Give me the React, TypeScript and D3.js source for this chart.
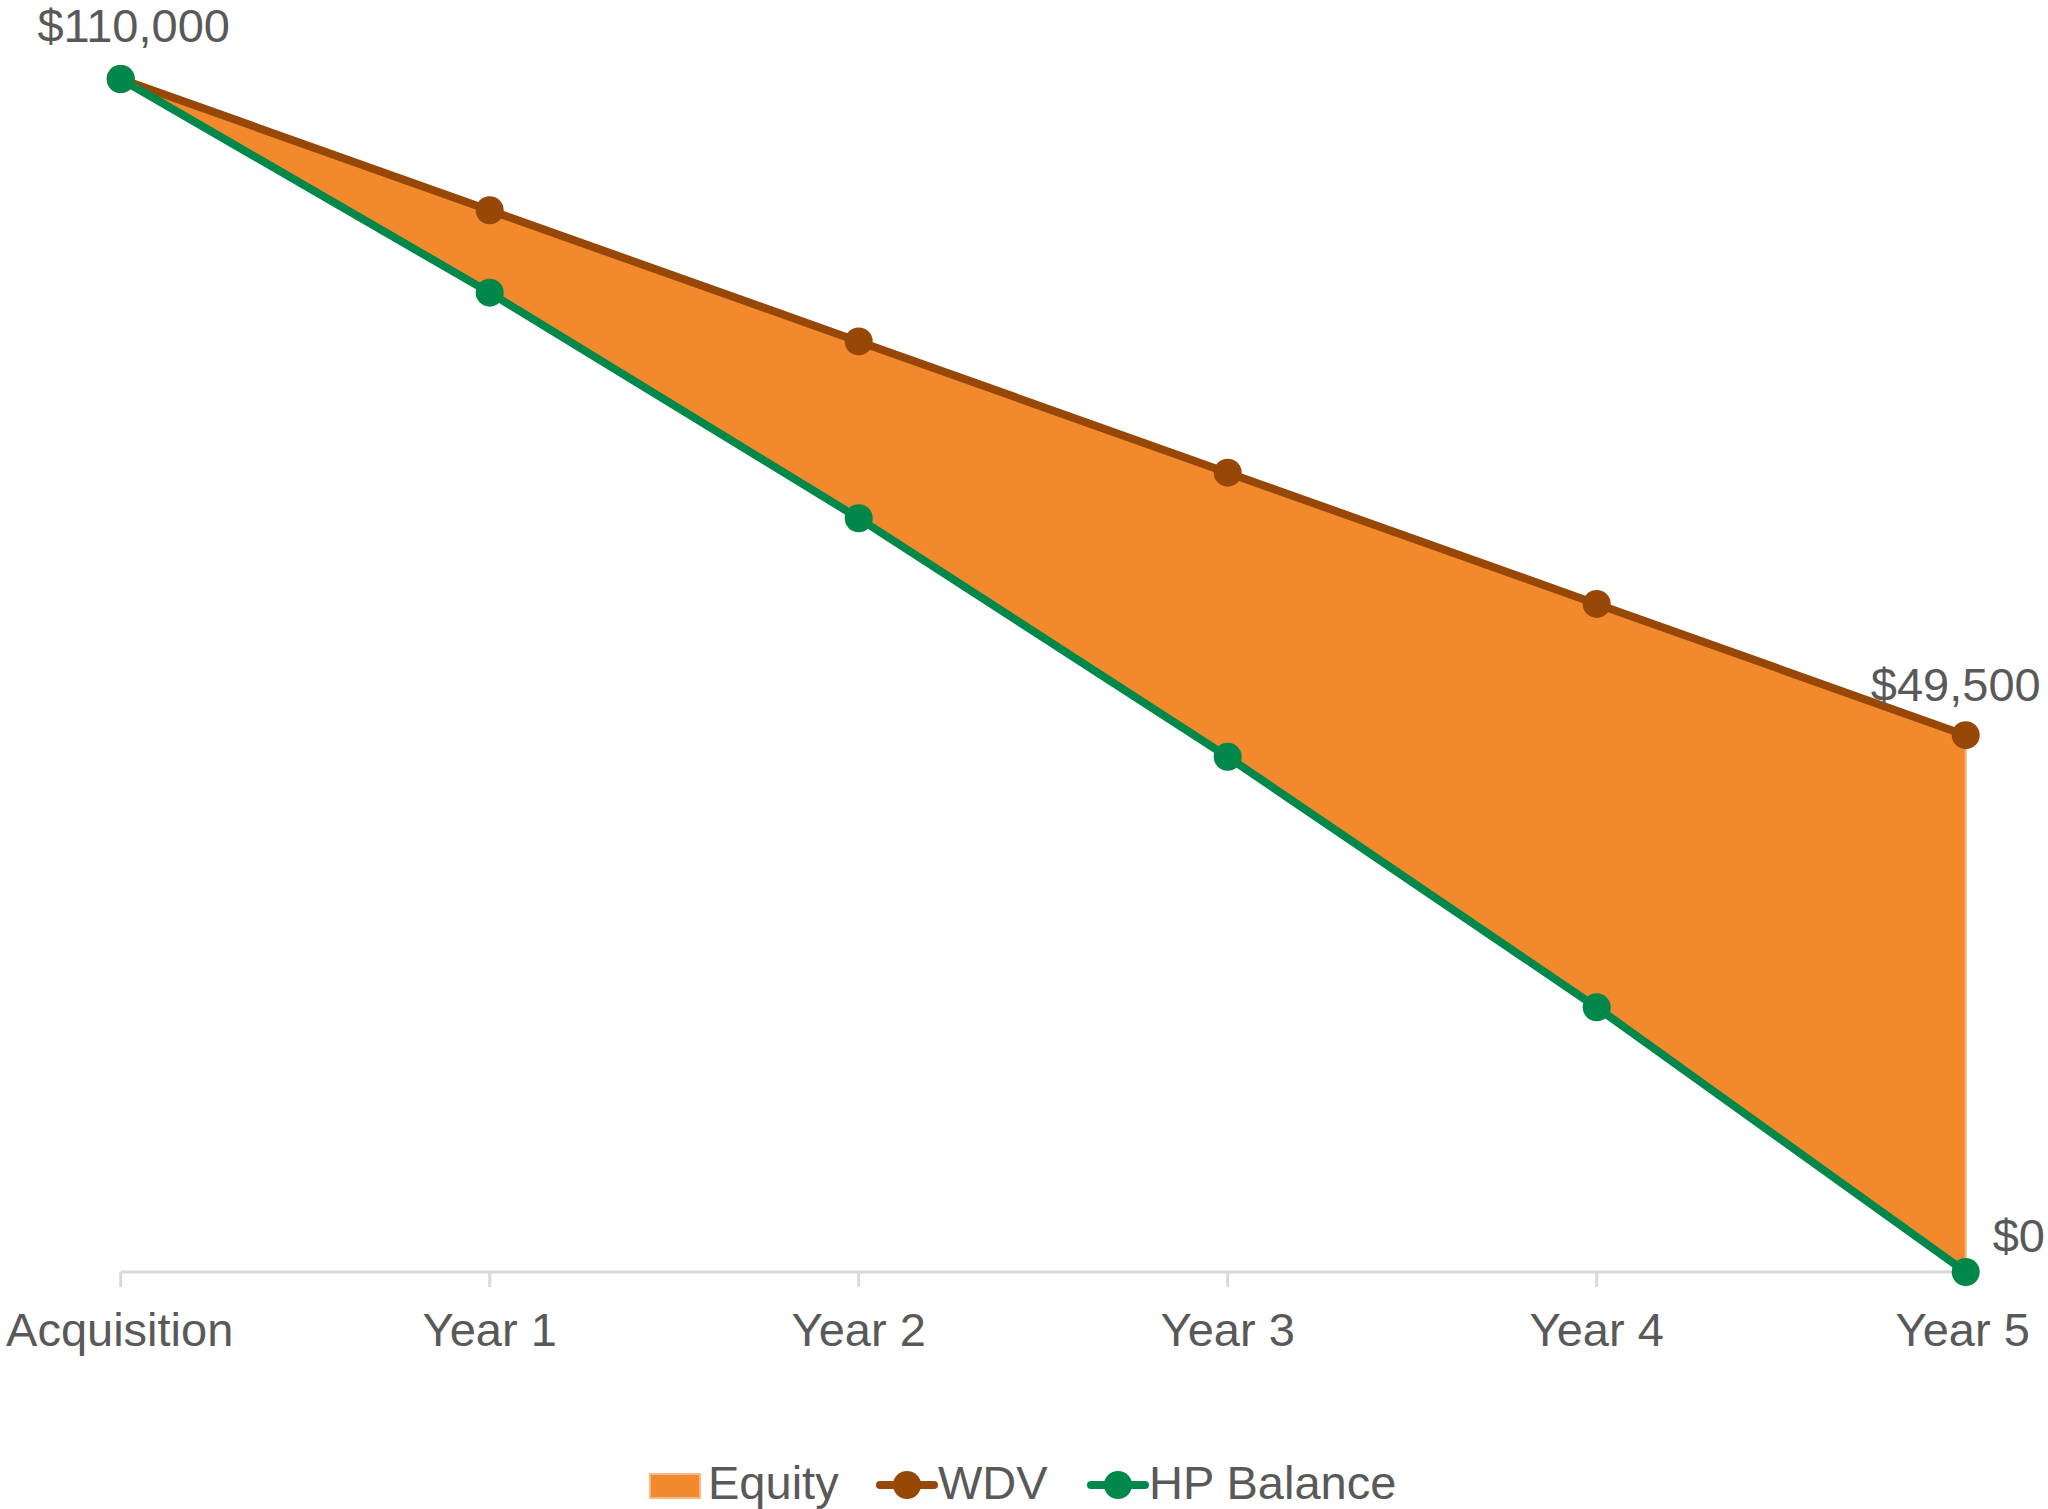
import React from "react";
import * as d3 from "d3";

const categories = ["Acquisition", "Year 1", "Year 2", "Year 3", "Year 4", "Year 5"];
const wdvValues = [110000, 97900, 85800, 73700, 61600, 49500];
const hpValues = [110000, 90300, 69500, 47500, 24400, 0];
const seriesNames = ["Equity", "WDV", "HP Balance"];

const W = 2048;
const H = 1509;
const ORANGE = "#F2892D";
const BROWN = "#974706";
const GREEN = "#00884A";
const TEXT = "#595959";
const FONT = "'Liberation Sans', Arial, sans-serif";

export default function App() {
  const x = d3.scalePoint<string>().domain(categories).range([120.7, 1965.7]);
  const y = d3.scaleLinear().domain([0, 110000]).range([1272, 79]);

  const rows = categories.map((c, i) => ({ c, wdv: wdvValues[i], hp: hpValues[i] }));

  const area = d3
    .area<typeof rows[0]>()
    .x((d) => x(d.c)!)
    .y0((d) => y(d.hp))
    .y1((d) => y(d.wdv));
  const lineW = d3.line<typeof rows[0]>().x((d) => x(d.c)!).y((d) => y(d.wdv));
  const lineH = d3.line<typeof rows[0]>().x((d) => x(d.c)!).y((d) => y(d.hp));

  const x0 = x(categories[0])!;
  const xN = x(categories[categories.length - 1])!;
  const last = categories.length - 1;

  return (
    <svg
      width={W}
      height={H}
      style={{ position: "absolute", left: 0, top: 0, background: "#fff" }}
      fontFamily={FONT}
    >
      <rect x={0} y={0} width={W} height={H} fill="#fff" />
      {/* axis */}
      <line x1={x0} x2={xN} y1={y(0)} y2={y(0)} stroke="#D9D9D9" strokeWidth={3} />
      {categories.map((c) => (
        <line key={c} x1={x(c)} x2={x(c)} y1={y(0)} y2={y(0) + 15} stroke="#D9D9D9" strokeWidth={3} />
      ))}
      {/* area */}
      <path d={area(rows)!} fill={ORANGE} />
      <line x1={xN} x2={xN} y1={y(wdvValues[last])} y2={y(hpValues[last])} stroke="#F5B07A" strokeWidth={2} />
      {/* lines */}
      <path d={lineW(rows)!} fill="none" stroke={BROWN} strokeWidth={8} strokeLinejoin="round" />
      <path d={lineH(rows)!} fill="none" stroke={GREEN} strokeWidth={8} strokeLinejoin="round" />
      {rows.map((d) => (
        <circle key={"w" + d.c} cx={x(d.c)} cy={y(d.wdv)} r={14} fill={BROWN} />
      ))}
      {rows.map((d) => (
        <circle key={"h" + d.c} cx={x(d.c)} cy={y(d.hp)} r={14} fill={GREEN} />
      ))}
      {/* category labels */}
      {categories.map((c, i) => (
        <text
          key={"t" + c}
          x={i === 0 ? x(c)! - 1 : i === last ? x(c)! - 3 : x(c)!}
          y={1346}
          textAnchor="middle"
          fontSize={47}
          fill={TEXT}
        >
          {c}
        </text>
      ))}
      {/* data labels */}
      <text x={x0 + 13} y={y(wdvValues[0]) - 37} textAnchor="middle" fontSize={47} fill={TEXT}>
        {d3.format("$,")(wdvValues[0])}
      </text>
      <text x={xN + 75} y={y(wdvValues[last]) - 34} textAnchor="end" fontSize={47} fill={TEXT}>
        {d3.format("$,")(wdvValues[last])}
      </text>
      <text x={xN + 27} y={y(hpValues[last]) - 20} textAnchor="start" fontSize={47} fill={TEXT}>
        {d3.format("$,")(hpValues[last])}
      </text>
      {/* legend */}
      <g>
        <rect x={650} y={1474} width={50} height={24} fill={ORANGE} stroke="#F7B987" strokeWidth={2} />
        <text x={708} y={1499} fontSize={47} fill={TEXT}>{seriesNames[0]}</text>
        <line x1={880} x2={934} y1={1485} y2={1485} stroke={BROWN} strokeWidth={8} strokeLinecap="round" />
        <circle cx={907} cy={1485} r={14} fill={BROWN} />
        <text x={938} y={1499} fontSize={47} fill={TEXT}>{seriesNames[1]}</text>
        <line x1={1091} x2={1145} y1={1485} y2={1485} stroke={GREEN} strokeWidth={8} strokeLinecap="round" />
        <circle cx={1118} cy={1485} r={14} fill={GREEN} />
        <text x={1149} y={1499} fontSize={47} fill={TEXT}>{seriesNames[2]}</text>
      </g>
    </svg>
  );
}
